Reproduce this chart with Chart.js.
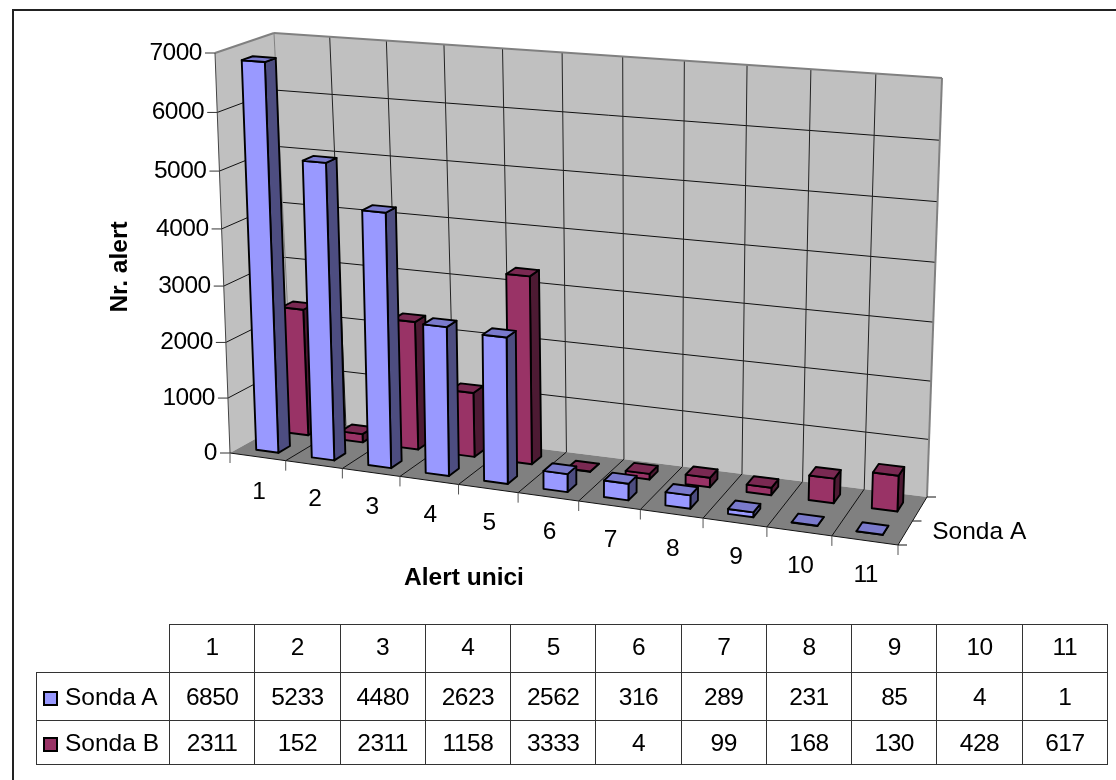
<!DOCTYPE html>
<html>
<head>
<meta charset="utf-8">
<title>Alert unici</title>
<script src="https://cdn.jsdelivr.net/npm/chart.js@4"></script>
<style>
  html, body { margin: 0; padding: 0; background: #fff; overflow: hidden; }
  #wrap { position: relative; width: 1116px; height: 780px; }
  #myChart { position: absolute; left: 0; top: 0; }
  #dataTable {
    position: absolute; left: 36px; top: 624px; width: 1072px;
    border-collapse: collapse; table-layout: fixed;
    font: 24.5px "Liberation Sans", Arial, sans-serif; color: #000;
    letter-spacing: -0.5px;
  }
  #dataTable td { border: 1px solid #333; text-align: center; padding: 0; }
  #dataTable tr.head td { padding-bottom: 3px; }
  #dataTable td.blank { border-left: 0; border-top: 0; }
  #dataTable td.name { text-align: left; padding-left: 6px; white-space: nowrap; letter-spacing: 0; }
  #dataTable .key {
    display: inline-block; width: 11px; height: 11px; border: 2px solid #000;
    margin-right: 7px; vertical-align: -1px;
  }
</style>
</head>
<body>
<div id="wrap">
  <canvas id="myChart" width="1116" height="780"></canvas>
  <table id="dataTable"></table>
</div>
<script>
const categorii = ['1', '2', '3', '4', '5', '6', '7', '8', '9', '10', '11'];
const sondaA = [6850, 5233, 4480, 2623, 2562, 316, 289, 231, 85, 4, 1];
const sondaB = [2311, 152, 2311, 1158, 3333, 4, 99, 168, 130, 428, 617];
const serii = ['Sonda A', 'Sonda B'];
const culori = ['#9999FF', '#993366'];
const titluX = 'Alert unici';
const titluY = 'Nr. alert';

// corners of the 3d box on the page
const box = {
    flb: [230, 453], frb: [898, 545], blb: [293, 418], brb: [927, 497],
    flt: [215, 53], frt: [913, 109], blt: [274, 33], brt: [942, 78]
};
const rowCenter = [0.25, 0.74];
const barHalfX = 0.2;    // of a category
const barHalfZ = 0.095;  // of the full depth

const font = '24.5px "Liberation Sans", Arial, sans-serif';
const fontBold = 'bold 24.5px "Liberation Sans", Arial, sans-serif';

function mix(a, b, t) {
    return [a[0] + (b[0] - a[0]) * t, a[1] + (b[1] - a[1]) * t];
}

function warp(t, w) {
    return t * w / (t * w + 1 - t);
}

// u, v, z are all 0..1 (along x, up y, into the back)
function project(u, v, z) {
    const uu = warp(u, 0.91);
    const vv = warp(v, 0.955);
    const bottom = mix(mix(box.flb, box.frb, uu), mix(box.blb, box.brb, uu), z);
    const top = mix(mix(box.flt, box.frt, uu), mix(box.blt, box.brt, uu), z);
    return mix(bottom, top, vv);
}

function poly(c, pts, fill, stroke, lw) {
    c.beginPath();
    pts.forEach((p, i) => i ? c.lineTo(p[0], p[1]) : c.moveTo(p[0], p[1]));
    c.closePath();
    if (fill) {
        c.fillStyle = fill;
        c.fill();
    }
    if (stroke) {
        c.strokeStyle = stroke;
        c.lineWidth = lw;
        c.stroke();
    }
}

function line(c, a, b, color, lw) {
    c.beginPath();
    c.moveTo(a[0], a[1]);
    c.lineTo(b[0], b[1]);
    c.strokeStyle = color;
    c.lineWidth = lw;
    c.stroke();
}

function shade(hex, f) {
    const n = parseInt(hex.slice(1), 16);
    const r = Math.round((n >> 16) * f);
    const g = Math.round(((n >> 8) & 255) * f);
    const b = Math.round((n & 255) * f);
    return 'rgb(' + r + ',' + g + ',' + b + ')';
}

function fracX(chart, i) {
    const a = chart.chartArea;
    return (chart.scales.x.getPixelForValue(i) - a.left) / (a.right - a.left);
}

function fracY(chart, val) {
    const a = chart.chartArea;
    return (a.bottom - chart.scales.y.getPixelForValue(val)) / (a.bottom - a.top);
}

const box3d = {
    id: 'box3d',
    beforeDatasetsDraw(chart) {
        const c = chart.ctx;
        const n = categorii.length;
        c.save();
        c.lineJoin = 'round';

        // outer frame, cut off by the picture on the right and at the bottom
        line(c, [13, 10], [1116, 10], '#222', 2);
        line(c, [13, 9], [13, 780], '#222', 2);

        // walls and floor
        poly(c, [project(0, 0, 0), project(0, 1, 0), project(0, 1, 1), project(0, 0, 1)], '#C0C0C0');
        poly(c, [project(0, 0, 1), project(0, 1, 1), project(1, 1, 1), project(1, 0, 1)], '#C0C0C0');
        poly(c, [project(0, 0, 0), project(1, 0, 0), project(1, 0, 1), project(0, 0, 1)], '#808080');

        // value grid
        chart.scales.y.ticks.forEach(t => {
            const v = fracY(chart, t.value);
            if (t.value > 0 && t.value < 7000) {
                line(c, project(0, v, 0), project(0, v, 1), '#111', 1);
                line(c, project(0, v, 1), project(1, v, 1), '#111', 1);
            }
        });

        // category grid, edge between two categories
        for (let i = 1; i < n; i++) {
            const u = i / n;
            line(c, project(u, 0, 1), project(u, 1, 1), '#222', 1);
            line(c, project(u, 0, 0), project(u, 0, 1), '#111', 1);
        }

        // wall edges
        line(c, project(0, 1, 0), project(0, 1, 1), '#808080', 2);
        line(c, project(0, 1, 1), project(1, 1, 1), '#808080', 2);
        line(c, project(1, 1, 1), project(1, 0, 1), '#808080', 2);
        line(c, project(0, 1, 1), project(0, 0, 1), '#808080', 1);
        line(c, project(0, 0, 0), project(0, 1, 0), '#444', 1);
        line(c, project(0, 0, 0), project(1, 0, 0), '#111', 1);
        line(c, project(1, 0, 0), project(1, 0, 1), '#111', 1);

        // y axis ticks and labels
        c.fillStyle = '#000';
        c.font = font;
        c.letterSpacing = '-0.5px';
        c.textAlign = 'right';
        c.textBaseline = 'middle';
        chart.scales.y.ticks.forEach(t => {
            const p = project(0, fracY(chart, t.value), 0);
            line(c, [p[0] - 10, p[1]], p, '#333', 1);
            c.fillStyle = '#000';
            c.fillText(String(t.value), p[0] - 13, p[1]);
        });

        // x axis ticks and labels
        c.textAlign = 'center';
        for (let i = 0; i <= n; i++) {
            const p = project(i / n, 0, 0);
            line(c, p, [p[0], p[1] + 10], '#555', 1);
        }
        categorii.forEach((name, i) => {
            const p = project(fracX(chart, i), 0, 0);
            c.fillStyle = '#000';
            c.fillText(name, p[0] + 1, p[1] + 35);
        });

        // depth axis, only the first name fits
        [0, 0.5, 1].forEach(z => {
            const p = project(1, 0, z);
            line(c, p, [p[0] + 9, p[1]], '#111', 1);
        });
        const pz = project(1, 0, rowCenter[0]);
        c.letterSpacing = '0px';
        c.textAlign = 'left';
        c.fillStyle = '#000';
        c.fillText(serii[0], pz[0] + 27, pz[1] - 1);

        // axis titles
        c.font = fontBold;
        c.textAlign = 'center';
        c.fillText(titluX, 464, 578);
        c.translate(120, 267);
        c.rotate(-Math.PI / 2);
        c.fillText(titluY, 0, 0);
        c.restore();
    },
    // the flat bars of the library are replaced by the boxes below
    beforeDatasetDraw() {
        return false;
    },
    afterDatasetsDraw(chart) {
        const c = chart.ctx;
        c.save();
        c.lineJoin = 'round';
        [1, 0].forEach(s => {
            const ds = chart.data.datasets[s];
            const z0 = rowCenter[s] - barHalfZ;
            const z1 = rowCenter[s] + barHalfZ;
            const dx = barHalfX / categorii.length;
            ds.data.forEach((val, i) => {
                const u = fracX(chart, i);
                const v = fracY(chart, val);
                const col = ds.backgroundColor;
                const a = project(u - dx, 0, z0), b = project(u + dx, 0, z0);
                const d = project(u + dx, 0, z1);
                const e = project(u - dx, v, z0), f = project(u + dx, v, z0);
                const g = project(u + dx, v, z1), h = project(u - dx, v, z1);
                poly(c, [b, f, g, d], shade(col, 0.5), '#000', 1.9);
                poly(c, [a, e, f, b], col, '#000', 1.9);
                poly(c, [e, h, g, f], shade(col, 0.8), '#000', 1.9);
            });
        });
        c.restore();
    }
};

new Chart(document.getElementById('myChart').getContext('2d'), {
    type: 'bar',
    data: {
        labels: categorii,
        datasets: [
            { label: serii[0], data: sondaA, backgroundColor: culori[0] },
            { label: serii[1], data: sondaB, backgroundColor: culori[1] }
        ]
    },
    options: {
        responsive: false,
        animation: false,
        layout: { padding: { left: 230, right: 218, top: 53, bottom: 327 } },
        plugins: { legend: { display: false }, tooltip: { enabled: false } },
        scales: {
            x: { display: false },
            y: { display: false, min: 0, max: 7000, ticks: { stepSize: 1000 } }
        }
    },
    plugins: [box3d]
});

// data table under the chart
let html = '<colgroup><col style="width:133px">' + categorii.map(() => '<col>').join('') + '</colgroup>';
html += '<tr class="head" style="height:48px"><td class="blank"></td>' + categorii.map(x => '<td>' + x + '</td>').join('') + '</tr>';
[sondaA, sondaB].forEach((vals, s) => {
    html += '<tr style="height:' + (s ? 44 : 48) + 'px"><td class="name"><span class="key" style="background:' + culori[s] + '"></span>' + serii[s] + '</td>';
    html += vals.map(x => '<td>' + x + '</td>').join('') + '</tr>';
});
document.getElementById('dataTable').innerHTML = html;
</script>
</body>
</html>
